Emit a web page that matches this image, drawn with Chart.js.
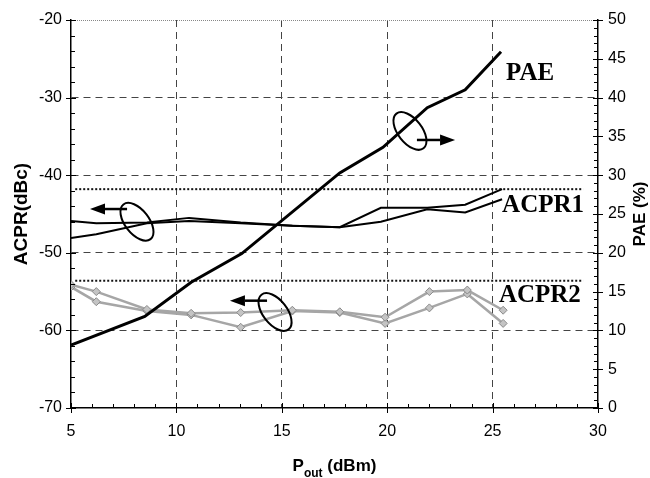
<!DOCTYPE html>
<html>
<head>
<meta charset="utf-8">
<script src="https://cdn.jsdelivr.net/npm/chart.js@4.4.0/dist/chart.umd.min.js"></script>
<style>
html, body { margin: 0; padding: 0; background: #fff; }
#wrap { width: 650px; height: 478px; }
</style>
</head>
<body>
<div id="wrap"><canvas id="chart" width="650" height="478"></canvas></div>
<script>
// values (Pout in dBm, ACPR in dBc, PAE in %)
const paeX = [5, 8.5, 10.7, 13.1, 17.75, 19.8, 21.9, 23.7, 25.4];
const paeVals = [8.1, 11.8, 16.2, 19.9, 30.3, 33.6, 38.7, 41.0, 45.9];

const acpr1X = [5, 6.2, 8.6, 10.6, 13.05, 15.5, 17.75, 19.7, 21.9, 23.7, 25.45];
const acpr1Upper = [-45.9, -46.2, -46.1, -45.5, -46.1, -46.5, -46.7, -44.2, -44.2, -43.8, -41.8];
const acpr1Lower = [-48.1, -47.6, -46.2, -45.9, -46.2, -46.5, -46.7, -46.0, -44.4, -44.8, -43.1];

const acpr2X = [5, 6.2, 8.6, 10.7, 13.05, 15.5, 17.75, 19.9, 22.0, 23.8, 25.5];
const acpr2Upper = [-54.1, -55.0, -57.3, -57.8, -57.7, -57.4, -57.6, -58.3, -55.0, -54.8, -57.4];
const acpr2Lower = [-54.4, -56.3, -57.5, -58.0, -59.6, -57.5, -57.7, -59.1, -57.1, -55.3, -59.1];

// dotted spec lines
const specX = [5.2, 29.3];
const acpr1Spec = -41.8;
const acpr2Spec = -53.6;

// ellipse + arrow callouts, in data units of the left axis
const callouts = [
    { cx: 8.13, cy: -46.0, from: 7.66, to: 5.9, ay: -44.36 },
    { cx: 14.68, cy: -57.63, from: 14.3, to: 12.54, ay: -56.17 },
    { cx: 21.08, cy: -34.3, from: 21.41, to: 23.22, ay: -35.46 },
];
const labels = [
    { text: "PAE", x: 25.64, y: -27.73 },
    { text: "ACPR1", x: 25.45, y: -44.74 },
    { text: "ACPR2", x: 25.3, y: -56.34 },
];

const sans = '"Liberation Sans", Arial, sans-serif';
Chart.defaults.font.family = sans;
Chart.defaults.color = "#000";

const pts = (xs, ys) => xs.map((x, i) => ({ x, y: ys[i] }));

function drawEllipseArrow(ctx, xs, ys, c) {
    const cx = xs.getPixelForValue(c.cx);
    const cy = ys.getPixelForValue(c.cy);
    ctx.save();
    ctx.strokeStyle = "#000";
    ctx.lineWidth = 2;
    ctx.beginPath();
    ctx.ellipse(cx, cy, 22, 12, (52 * Math.PI) / 180, 0, Math.PI * 2);
    ctx.stroke();

    const y = ys.getPixelForValue(c.ay);
    const x0 = xs.getPixelForValue(c.from);
    const x1 = xs.getPixelForValue(c.to);
    const dir = x1 > x0 ? 1 : -1;
    const head = 15;
    ctx.lineWidth = 2.5;
    ctx.beginPath();
    ctx.moveTo(x0, y);
    ctx.lineTo(x1 - dir * head, y);
    ctx.stroke();
    ctx.fillStyle = "#000";
    ctx.beginPath();
    ctx.moveTo(x1, y);
    ctx.lineTo(x1 - dir * head, y - 5.5);
    ctx.lineTo(x1 - dir * head, y + 5.5);
    ctx.closePath();
    ctx.fill();
    ctx.restore();
}

const decor = {
    id: "decor",
    beforeDatasetsDraw(chart) {
        const { ctx, chartArea: a } = chart;
        // dotted top frame
        ctx.save();
        ctx.strokeStyle = "#888";
        ctx.lineWidth = 1;
        ctx.setLineDash([1, 1]);
        ctx.beginPath();
        ctx.moveTo(a.left, a.top + 0.5);
        ctx.lineTo(a.right, a.top + 0.5);
        ctx.stroke();
        ctx.restore();
    },
    afterDraw(chart) {
        const { ctx, chartArea: a } = chart;
        const { x, y, y2 } = chart.scales;

        // tick marks: majors cross the axis, minors point inwards
        ctx.save();
        ctx.strokeStyle = "#000";
        ctx.lineWidth = 1;
        ctx.beginPath();
        for (let v = 5; v <= 30; v += 1) {
            const px = Math.round(x.getPixelForValue(v)) + 0.5;
            const major = v % 5 === 0;
            ctx.moveTo(px, a.bottom + (major ? 5 : 0));
            ctx.lineTo(px, a.bottom - (major ? 5 : 4));
        }
        for (let v = -70; v <= -20; v += 2) {
            const py = Math.round(y.getPixelForValue(v)) + 0.5;
            const major = v % 10 === 0;
            ctx.moveTo(a.left - (major ? 5 : 0), py);
            ctx.lineTo(a.left + (major ? 5 : 4), py);
        }
        for (let v = 0; v <= 50; v += 1) {
            const py = Math.round(y2.getPixelForValue(v)) + 0.5;
            const major = v % 5 === 0;
            ctx.moveTo(a.right + (major ? 5 : 0), py);
            ctx.lineTo(a.right - (major ? 5 : 4), py);
        }
        ctx.stroke();
        ctx.restore();

        callouts.forEach((c) => drawEllipseArrow(ctx, x, y, c));

        ctx.save();
        ctx.fillStyle = "#000";
        ctx.font = 'bold 25px "Liberation Serif", "Times New Roman", serif';
        ctx.textAlign = "left";
        ctx.textBaseline = "alphabetic";
        labels.forEach((l) => ctx.fillText(l.text, x.getPixelForValue(l.x), y.getPixelForValue(l.y)));

        // axis titles
        const mid = (a.top + a.bottom) / 2;
        ctx.font = "bold 19px " + sans;
        ctx.textAlign = "center";
        ctx.textBaseline = "middle";
        ctx.save();
        ctx.translate(22, mid);
        ctx.rotate(-Math.PI / 2);
        ctx.fillText("ACPR(dBc)", 0, 0);
        ctx.restore();
        ctx.save();
        ctx.font = "bold 17px " + sans;
        ctx.translate(640, mid);
        ctx.rotate(-Math.PI / 2);
        ctx.fillText("PAE (%)", 0, 0);
        ctx.restore();

        const big = "bold 17px " + sans;
        const small = "bold 12px " + sans;
        ctx.textAlign = "left";
        ctx.textBaseline = "alphabetic";
        ctx.font = big;
        const wP = ctx.measureText("P").width;
        const wRest = ctx.measureText(" (dBm)").width;
        ctx.font = small;
        const wSub = ctx.measureText("out").width;
        let tx = (a.left + a.right) / 2 - (wP + wSub + wRest) / 2;
        ctx.font = big;
        ctx.fillText("P", tx, 471);
        ctx.font = small;
        ctx.fillText("out", tx + wP, 477);
        ctx.font = big;
        ctx.fillText(" (dBm)", tx + wP + wSub, 471);
        ctx.restore();
    },
};

const gridColor = (edges) => (c) => (c.tick && edges.includes(c.tick.value) ? "rgba(0,0,0,0)" : "#444");
const tickFont = { family: sans, size: 16 };

new Chart(document.getElementById("chart"), {
    type: "line",
    data: {
        datasets: [
            { label: "PAE", data: pts(paeX, paeVals), yAxisID: "y2", borderColor: "#000", borderWidth: 3, pointRadius: 0 },
            { label: "ACPR1 a", data: pts(acpr1X, acpr1Upper), yAxisID: "y", borderColor: "#000", borderWidth: 2, pointRadius: 0 },
            { label: "ACPR1 b", data: pts(acpr1X, acpr1Lower), yAxisID: "y", borderColor: "#000", borderWidth: 2, pointRadius: 0 },
            {
                label: "ACPR2 a",
                data: pts(acpr2X, acpr2Upper),
                yAxisID: "y",
                borderColor: "#a6a6a6",
                borderWidth: 2.5,
                pointStyle: "rectRot",
                pointRadius: 4,
                pointBackgroundColor: "#c4c4c4",
                pointBorderColor: "#8a8a8a",
                pointBorderWidth: 1,
            },
            {
                label: "ACPR2 b",
                data: pts(acpr2X, acpr2Lower),
                yAxisID: "y",
                borderColor: "#a6a6a6",
                borderWidth: 2.5,
                pointStyle: "rectRot",
                pointRadius: 4,
                pointBackgroundColor: "#c4c4c4",
                pointBorderColor: "#8a8a8a",
                pointBorderWidth: 1,
            },
            { label: "ACPR1 spec", data: pts(specX, [acpr1Spec, acpr1Spec]), yAxisID: "y", borderColor: "#111", borderWidth: 2, borderDash: [2, 2], pointRadius: 0 },
            { label: "ACPR2 spec", data: pts(specX, [acpr2Spec, acpr2Spec]), yAxisID: "y", borderColor: "#111", borderWidth: 2, borderDash: [2, 2], pointRadius: 0 },
        ],
    },
    options: {
        responsive: false,
        animation: false,
        layout: { padding: { top: 20, left: 0, right: 0, bottom: 0 } },
        plugins: { legend: { display: false }, tooltip: { enabled: false } },
        scales: {
            x: {
                type: "linear",
                min: 5,
                max: 30,
                ticks: { stepSize: 5, padding: 14, font: tickFont, color: "#000" },
                grid: { color: gridColor([5, 30]), lineWidth: 1, drawTicks: false, borderDash: [7, 5] },
                border: { color: "#000", width: 1.5, dash: [7, 5] },
                afterFit: (s) => { s.height = 70; },
            },
            y: {
                position: "left",
                min: -70,
                max: -20,
                ticks: { stepSize: 10, padding: 9, font: tickFont, color: "#000" },
                grid: { color: gridColor([-70, -20]), lineWidth: 1, drawTicks: false, borderDash: [7, 5] },
                border: { color: "#000", width: 1.5, dash: [7, 5] },
                afterFit: (s) => { s.width = 71; },
            },
            y2: {
                position: "right",
                min: 0,
                max: 50,
                ticks: { stepSize: 5, padding: 10, font: tickFont, color: "#000" },
                grid: { display: false, drawTicks: false },
                border: { display: true, color: "#000", width: 1.5 },
                afterFit: (s) => { s.width = 52; },
            },
        },
    },
    plugins: [decor],
});
</script>
</body>
</html>
